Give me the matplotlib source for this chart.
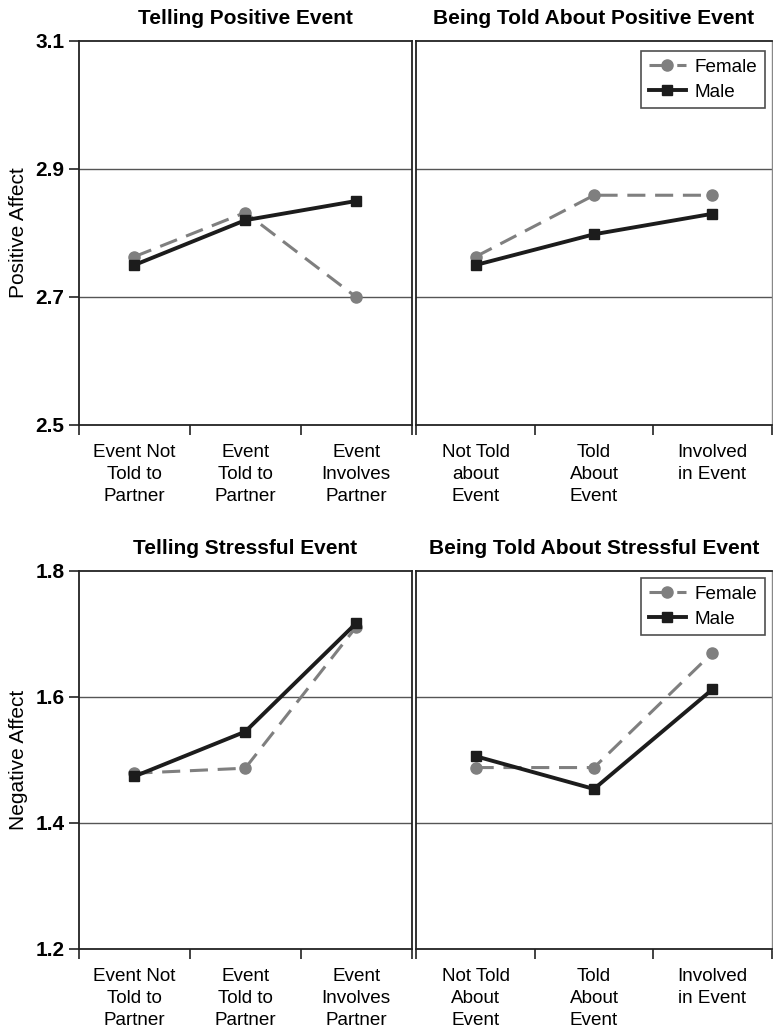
import matplotlib
matplotlib.use("Agg")
import matplotlib.pyplot as plt
from matplotlib.ticker import FixedLocator, NullFormatter

plt.rcParams['font.family'] = ['Liberation Sans', 'DejaVu Sans']

# ---------------- data ----------------
titles = ["Telling Positive Event", "Being Told About Positive Event",
          "Telling Stressful Event", "Being Told About Stressful Event"]
cats_tell = ["Event Not\nTold to\nPartner", "Event\nTold to\nPartner", "Event\nInvolves\nPartner"]
cats_told_pos = ["Not Told\nabout\nEvent", "Told\nAbout\nEvent", "Involved\nin Event"]
cats_told_neg = ["Not Told\nAbout\nEvent", "Told\nAbout\nEvent", "Involved\nin Event"]

female_tell_pos = [2.763, 2.832, 2.700]
male_tell_pos = [2.750, 2.820, 2.850]
female_told_pos = [2.763, 2.859, 2.859]
male_told_pos = [2.750, 2.798, 2.830]

female_tell_neg = [1.479, 1.487, 1.711]
male_tell_neg = [1.474, 1.545, 1.717]
female_told_neg = [1.488, 1.488, 1.670]
male_told_neg = [1.506, 1.454, 1.612]

pos_ticks = [2.5, 2.7, 2.9, 3.1]
neg_ticks = [1.2, 1.4, 1.6, 1.8]
ylabels = ["Positive Affect", "Negative Affect"]

# ---------------- figure ----------------
W, H = 773, 1028
fig = plt.figure(figsize=(W / 100, H / 100), dpi=100)

def frac(x0, y0, x1, y1):
    return [x0 / W, 1 - y1 / H, (x1 - x0) / W, (y1 - y0) / H]

rows = [(41, 425), (571, 949)]
cols = [(79, 411.5), (416.5, 771.5)]

FEM_COL = "#7f7f7f"
MAL_COL = "#1c1c1c"

panels = [
    (0, 0, titles[0], cats_tell, female_tell_pos, male_tell_pos, pos_ticks, False),
    (0, 1, titles[1], cats_told_pos, female_told_pos, male_told_pos, pos_ticks, True),
    (1, 0, titles[2], cats_tell, female_tell_neg, male_tell_neg, neg_ticks, False),
    (1, 1, titles[3], cats_told_neg, female_told_neg, male_told_neg, neg_ticks, True),
]

for r, c, title, cats, fem, mal, yt, show_leg in panels:
    y0, y1 = rows[r]
    x0, x1 = cols[c]
    ax = fig.add_axes(frac(x0, y0, x1, y1))
    xs = [0.5, 1.5, 2.5]
    ax.set_xlim(0, 3)
    ax.set_ylim(yt[0], yt[-1])
    for g in yt[1:-1]:
        ax.axhline(g, color="#555555", lw=1.0, zorder=1)
    lw_f = 2.2
    ax.plot(xs, fem, color=FEM_COL, lw=lw_f, dashes=(13 / lw_f, 7 / lw_f),
            marker="o", ms=8, mec=FEM_COL, mfc=FEM_COL, label="Female", zorder=3)
    ax.plot(xs, mal, color=MAL_COL, lw=2.8, marker="s", ms=7,
            mec=MAL_COL, mfc=MAL_COL, label="Male", zorder=4)

    ax.xaxis.set_major_locator(FixedLocator([0, 1, 2, 3]))
    ax.xaxis.set_major_formatter(NullFormatter())
    ax.xaxis.set_minor_locator(FixedLocator(xs))
    ax.set_xticklabels(cats, minor=True, fontsize=13.6, linespacing=1.38)
    ax.tick_params(axis="x", which="major", direction="out", length=7.5, width=1.2, color="#222222")
    ax.tick_params(axis="x", which="minor", length=0, pad=14)

    if c == 0:
        ax.set_yticks(yt)
        ax.set_yticklabels([f"{v:.1f}" for v in yt], fontsize=15, fontweight="bold")
        ax.tick_params(axis="y", direction="out", length=7.5, width=1.2, pad=3, color="#222222")
        ax.set_ylabel(ylabels[r], fontsize=15, labelpad=5)
    else:
        ax.set_yticks([])

    for s in ax.spines.values():
        s.set_color("#222222")
        s.set_linewidth(1.3)
    if c == 1:
        ax.spines["right"].set_linewidth(1.0)
        ax.spines["right"].set_color("#888888")

    ax.set_title(title, fontsize=15, fontweight="bold", pad=12)

    if show_leg:
        top = 0.974 if r == 0 else 0.981
        leg = ax.legend(loc="upper right", bbox_to_anchor=(0.982, top), fontsize=13.6,
                        frameon=True, fancybox=False, edgecolor="#222222",
                        handlelength=2.0, handletextpad=0.45, borderpad=0.4,
                        labelspacing=0.4, borderaxespad=0)
        leg.get_frame().set_linewidth(1.2)

fig.savefig("out.png", dpi=100)
